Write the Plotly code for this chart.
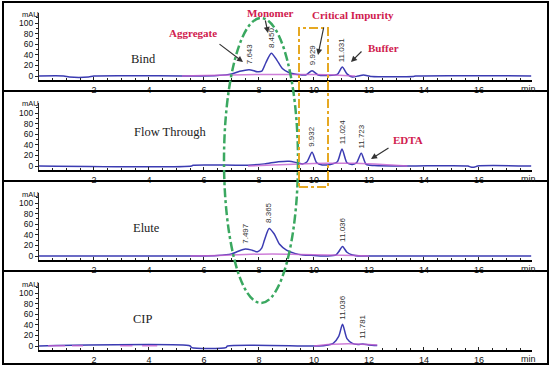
import plotly.graph_objects as go

W, H = 551, 367

# ---------------- data ----------------
PANEL_NAMES = ["Bind", "Flow Through", "Elute", "CIP"]

BIND_T = [0, 0.9, 1.1, 1.8, 2.0, 5.5, 6.5, 7.0, 7.3, 7.64, 7.95, 8.1, 8.25, 8.45, 8.65, 8.85,
          9.1, 9.4, 9.7, 9.93, 10.15, 10.5, 10.85, 11.03, 11.2, 11.4, 11.6, 11.8, 12.0, 12.1,
          13.6, 13.7, 17.9]
BIND_BLUE = [0, 0, -2, -2, 0, 0, 1, 4, 9, 12, 8, 9, 25, 43, 30, 14,
             6, 3, 2, 10, 2, 1, 3, 17, 4, -2, 0, 2, 0, -1,
             -1, 0, 0]
BIND_MAG_T = [5.2, 6.0, 7.0, 8.0, 9.0, 10.0, 10.8, 11.5]
BIND_MAG = [0, 1, 2, 3, 3, 3, 2, 0]

FT_T = [0, 5.55, 5.6, 7.6, 8.2, 8.7, 9.1, 9.4, 9.6, 9.75, 9.93, 10.1, 10.3, 10.6, 10.85,
        11.02, 11.2, 11.4, 11.55, 11.72, 11.9, 12.2, 13.4, 15.6, 15.7, 15.85, 15.95, 17.9]
FT_BLUE = [0, 0, 1.5, 1.5, 4, 8, 9, 6, 4, 8, 26, 6, 2, 3, 8,
           32, 6, 3, 6, 24, 3, 1, 0, 0, -2, -2, 0, 0]
FT_MAG_T = [7.6, 8.5, 9.5, 10.5, 11.5, 12.5, 13.4]
FT_MAG = [0, 2, 4, 5, 5, 3, 0]

ELUTE_T = [0, 5.5, 6.5, 7.0, 7.25, 7.5, 7.75, 7.95, 8.1, 8.2, 8.37, 8.55, 8.75, 9.0, 9.3,
           9.6, 10.0, 10.5, 10.8, 10.9, 11.04, 11.2, 11.4, 11.7, 12.0, 17.9]
ELUTE_BLUE = [0, 0, 1, 4, 9, 13, 11, 8, 15, 30, 52, 42, 22, 11, 5,
              2, 1, 0, 2, 8, 18, 7, 2, 0, 0, 0]
ELUTE_MAG_T = [5.5, 6.5, 7.5, 8.5, 9.5, 10.5, 11.5, 12.0]
ELUTE_MAG = [0, 1, 3, 4, 3, 2, 1, 0]

CIP_T = [0, 5.5, 5.55, 6.8, 6.85, 10.0, 10.4, 10.7, 10.9, 11.04, 11.2, 11.4, 11.6, 11.78, 12.0, 12.3]
CIP_BLUE = [0, 0, -3, -3, 0, 0, 1, 5, 18, 41, 14, 5, 3, 4, 2, 1]
CIP_MAG_T = [0.33, 0.95, None, 1.2, 1.6, None, 2.95, 3.4, None, 3.75, 4.3, None,
             10.0, 10.5, 11.0, 11.5, 12.0, 12.3]
CIP_MAG = [0.5, 0.5, None, 0.5, 0.5, None, 0.5, 0.5, None, 0.5, 0.5, None,
           0, 3, 4, 4, 3, 2]

BIND_PEAKS = ["7.643", "8.450", "9.929", "11.031"]
BIND_PEAK_H = [12, 43, 10, 17]
FT_PEAKS = ["9.932", "11.024", "11.723"]
FT_PEAK_H = [26, 32, 24]
ELUTE_PEAKS = ["7.497", "8.365", "11.036"]
ELUTE_PEAK_H = [13, 52, 18]
CIP_PEAKS = ["11.036", "11.781"]
CIP_PEAK_H = [41, 4]

X_TICKS = [2, 4, 6, 8, 10, 12, 14, 16]
Y_TICKS = [0, 20, 40, 60, 80, 100]

panels = [
    (BIND_T, BIND_BLUE, BIND_MAG_T, BIND_MAG, BIND_PEAKS, BIND_PEAK_H),
    (FT_T, FT_BLUE, FT_MAG_T, FT_MAG, FT_PEAKS, FT_PEAK_H),
    (ELUTE_T, ELUTE_BLUE, ELUTE_MAG_T, ELUTE_MAG, ELUTE_PEAKS, ELUTE_PEAK_H),
    (CIP_T, CIP_BLUE, CIP_MAG_T, CIP_MAG, CIP_PEAKS, CIP_PEAK_H),
]

# ---------------- styling ----------------
BLUE = "#3b3bb2"
MAG = "#c35fd0"
RED = "#d0204e"
SERIF = "Liberation Serif"
SANS = "Liberation Sans"


def px(x):
    return x / W


def py(y):
    return 1 - y / H


fig = go.Figure()
annotations = []
layout = {}

for k, (t, blue, mt, mag, peaks, peak_h) in enumerate(panels):
    i = k + 1
    sfx = "" if i == 1 else str(i)
    off = 90 * k
    fig.add_trace(go.Scatter(x=t, y=blue, mode="lines", xaxis="x" + sfx, yaxis="y" + sfx,
                             line=dict(color=BLUE, width=1.5, shape="spline", smoothing=0.7),
                             hoverinfo="skip", showlegend=False))
    fig.add_trace(go.Scatter(x=mt, y=mag, mode="lines", xaxis="x" + sfx, yaxis="y" + sfx,
                             line=dict(color=MAG, width=1.5, shape="spline", smoothing=0.7),
                             opacity=0.8, hoverinfo="skip", showlegend=False))
    layout["xaxis" + sfx] = dict(
        domain=[px(39), px(532)], range=[0, 17.93], anchor="y" + sfx,
        showline=True, linecolor="black", linewidth=2, mirror=False,
        ticks="inside", ticklen=3, tickwidth=1, tickcolor="#222",
        tickmode="array", tickvals=X_TICKS, ticktext=[str(v) for v in X_TICKS],
        minor=dict(tickmode="linear", tick0=0, dtick=0.5, ticks="inside", ticklen=2,
                   tickcolor="#222", showgrid=False),
        showgrid=False, zeroline=False, fixedrange=True,
        tickfont=dict(family=SANS, size=9, color="#111"),
    )
    layout["yaxis" + sfx] = dict(
        domain=[py(80 + off), py(13 + off)], range=[-7.55, 118.9], anchor="x" + sfx,
        showline=True, linecolor="#222", linewidth=1,
        ticks="outside", ticklen=3, tickcolor="#222",
        tickmode="array", tickvals=Y_TICKS, ticktext=[str(v) for v in Y_TICKS],
        minor=dict(tickmode="linear", tick0=0, dtick=10, ticks="outside", ticklen=2,
                   tickcolor="#222", showgrid=False),
        showgrid=False, zeroline=False, fixedrange=True,
        tickfont=dict(family=SANS, size=8.5, color="#111"),
    )
    # peak labels
    for lab, h in zip(peaks, peak_h):
        annotations.append(dict(
            x=float(lab), y=h, xref="x" + sfx, yref="y" + sfx, text=lab, showarrow=False,
            textangle=-90, xanchor="center", yanchor="bottom", yshift=3,
            font=dict(family=SANS, size=8, color="#333")))
    # "min" and "mAU"
    annotations.append(dict(x=px(528), y=py(89 + off), xref="paper", yref="paper", text="min",
                            showarrow=False, xanchor="center", yanchor="middle",
                            font=dict(family=SANS, size=9, color="#111")))
    annotations.append(dict(x=px(30), y=py(14 + off), xref="paper", yref="paper", text="mAU",
                            showarrow=False, xanchor="center", yanchor="middle",
                            font=dict(family=SANS, size=7.5, color="#111")))

# panel names
name_pos = [(143, 59), (170, 132), (146, 228), (143, 319)]
for name, (x, y) in zip(PANEL_NAMES, name_pos):
    annotations.append(dict(x=px(x), y=py(y), xref="paper", yref="paper", text=name,
                            showarrow=False, xanchor="center", yanchor="middle",
                            font=dict(family=SERIF, size=12.5, color="#222")))

# red callouts
callouts = [("Aggregate", 193, 33), ("Monomer", 270, 13), ("Critical Impurity", 353, 15),
            ("Buffer", 383, 48), ("EDTA", 408, 140)]
for txt, x, y in callouts:
    annotations.append(dict(x=px(x), y=py(y), xref="paper", yref="paper", text="<b>" + txt + "</b>",
                            showarrow=False, xanchor="center", yanchor="middle",
                            font=dict(family=SERIF, size=11, color=RED)))

# arrows (tail -> tip)
arrows = [((218, 43), (243, 62)), ((265, 19), (268, 33)), ((324, 26), (318, 55)),
          ((363, 50), (351, 62)), ((390, 147), (371, 159))]
for (tx, ty), (hx, hy) in arrows:
    annotations.append(dict(x=px(hx), y=py(hy), xref="paper", yref="paper", text="",
                            showarrow=True, ax=tx - hx, ay=ty - hy, arrowhead=2, arrowsize=1,
                            arrowwidth=1.2, arrowcolor="#333"))

shapes = []
# outer frame and separators
shapes.append(dict(type="rect", xref="paper", yref="paper", x0=px(3), x1=px(548), y0=py(364), y1=py(2),
                   line=dict(color="black", width=2)))
for y in (91, 181, 271):
    shapes.append(dict(type="line", xref="paper", yref="paper", x0=px(3), x1=px(548), y0=py(y), y1=py(y),
                       line=dict(color="black", width=2)))
# green ellipse
shapes.append(dict(type="circle", xref="paper", yref="paper", x0=px(224), x1=px(298), y0=py(303), y1=py(18),
                   line=dict(color="#3aa860", width=2.5, dash="dashdot")))
# orange box
shapes.append(dict(type="rect", xref="paper", yref="paper", x0=px(299), x1=px(328), y0=py(187), y1=py(28),
                   line=dict(color="#e6a822", width=2, dash="dashdot")))

fig.update_layout(
    width=W, height=H, margin=dict(l=0, r=0, t=0, b=0),
    paper_bgcolor="white", plot_bgcolor="white",
    annotations=annotations, shapes=shapes, showlegend=False,
    hovermode=False,
    **layout,
)

fig.write_html("out.html", config={"displayModeBar": False},
               post_script="document.body.style.margin='0';document.body.style.overflow='hidden';")
